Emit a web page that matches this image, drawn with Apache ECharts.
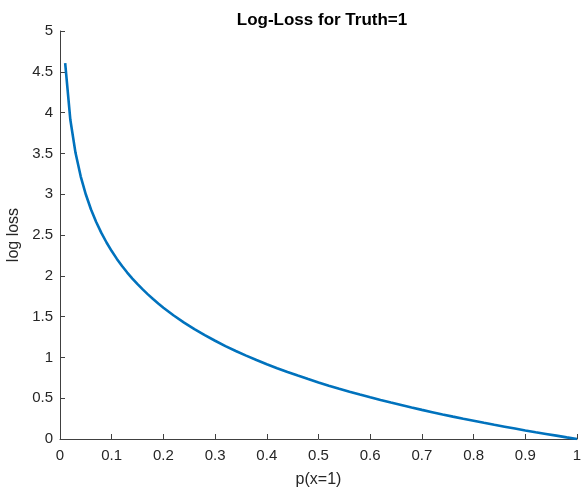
<!DOCTYPE html>
<html>
<head>
<meta charset="utf-8">
<script src="https://cdn.jsdelivr.net/npm/echarts@6/dist/echarts.min.js"></script>
<style>
  html, body { margin: 0; padding: 0; background: #fff; }
  #chart { width: 581px; height: 489px; }
</style>
</head>
<body>
<div id="chart"></div>
<script>
// Predicted probability for the true class
const probs = [
  0.01, 0.02, 0.03, 0.04, 0.05, 0.06, 0.07, 0.08, 0.09, 0.10,
  0.11, 0.12, 0.13, 0.14, 0.15, 0.16, 0.17, 0.18, 0.19, 0.20,
  0.22, 0.24, 0.26, 0.28, 0.30, 0.32, 0.34, 0.36, 0.38, 0.40,
  0.42, 0.44, 0.46, 0.48, 0.50, 0.52, 0.54, 0.56, 0.58, 0.60,
  0.62, 0.64, 0.66, 0.68, 0.70, 0.72, 0.74, 0.76, 0.78, 0.80,
  0.82, 0.84, 0.86, 0.88, 0.90, 0.92, 0.94, 0.96, 0.98, 1.00
];
// Log loss at each probability
const losses = [
  4.605, 3.912, 3.507, 3.219, 2.996, 2.813, 2.659, 2.526, 2.408, 2.303,
  2.207, 2.120, 2.040, 1.966, 1.897, 1.833, 1.772, 1.715, 1.661, 1.609,
  1.514, 1.427, 1.347, 1.273, 1.204, 1.139, 1.079, 1.022, 0.968, 0.916,
  0.868, 0.821, 0.777, 0.734, 0.693, 0.654, 0.616, 0.580, 0.545, 0.511,
  0.478, 0.446, 0.416, 0.386, 0.357, 0.329, 0.301, 0.274, 0.248, 0.223,
  0.198, 0.174, 0.151, 0.128, 0.105, 0.083, 0.062, 0.041, 0.020, 0.000
];

const chartTitle = 'Log-Loss for Truth=1';
const xLabel = 'p(x=1)';
const yLabel = 'log loss';

const axisGrey = '#404040';
const font = 'Liberation Sans, Arial, Helvetica, sans-serif';

const chart = echarts.init(document.getElementById('chart'), null, { renderer: 'canvas' });

const axisCommon = {
  axisLine: { show: true, lineStyle: { color: axisGrey, width: 1 } },
  axisTick: { show: true, inside: true, length: 5, lineStyle: { color: axisGrey } },
  axisLabel: { color: '#262626', fontSize: 15, fontFamily: font },
  splitLine: { show: false },
  nameTextStyle: { color: '#262626', fontSize: 16, fontFamily: font }
};

chart.setOption({
  animation: false,
  backgroundColor: '#ffffff',
  title: {
    text: chartTitle,
    left: 317,
    top: 7,
    textAlign: 'center',
    textStyle: { fontSize: 17, fontWeight: 'bold', color: '#000', fontFamily: font }
  },
  grid: {
    left: 60, right: 4, top: 31, bottom: 50,
    containLabel: false,
    outerBoundsMode: 'none'
  },
  xAxis: Object.assign({}, axisCommon, {
    type: 'value',
    min: 0,
    max: 1,
    interval: 0.1,
    name: xLabel,
    nameLocation: 'middle',
    nameGap: 33,
    axisLabel: Object.assign({}, axisCommon.axisLabel, { margin: 9 })
  }),
  yAxis: Object.assign({}, axisCommon, {
    type: 'value',
    min: 0,
    max: 5,
    interval: 0.5,
    name: yLabel,
    nameLocation: 'middle',
    nameGap: 33,
    axisLabel: Object.assign({}, axisCommon.axisLabel, { margin: 7 })
  }),
  series: [{
    type: 'line',
    data: probs.map((p, i) => [p, losses[i]]),
    showSymbol: false,
    smooth: false,
    lineStyle: { color: '#0072BD', width: 2.6 },
    itemStyle: { color: '#0072BD' }
  }]
});
</script>
</body>
</html>
